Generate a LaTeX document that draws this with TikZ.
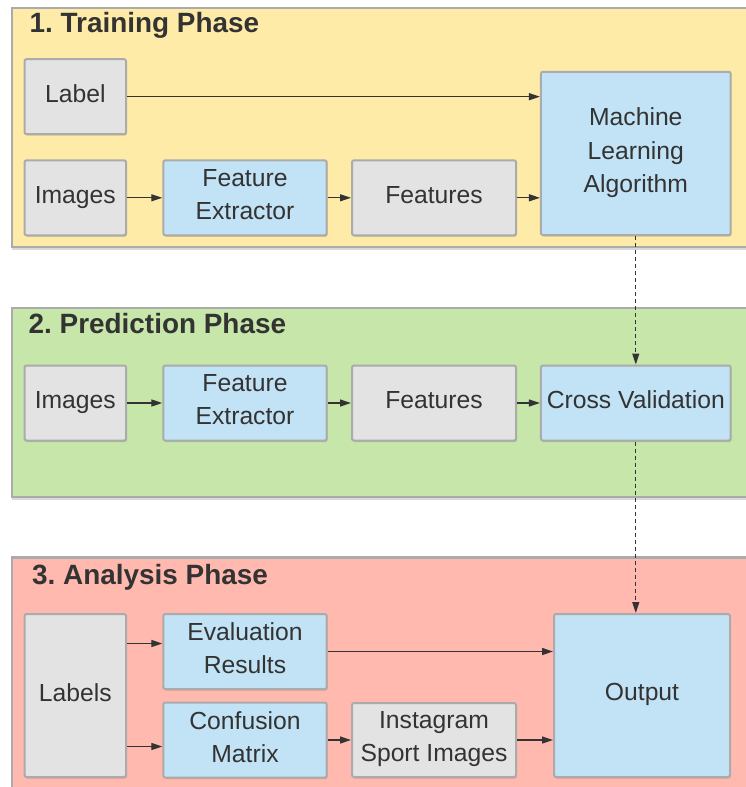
\documentclass[tikz,border=0pt]{standalone}
\usepackage{fontspec}
\setmainfont{Liberation Sans}
\usetikzlibrary{arrows.meta,shadows}
\frenchspacing

\definecolor{txt}{HTML}{333333}
\definecolor{edge}{HTML}{ABABAB}
\definecolor{trainbg}{HTML}{FFEBA8}
\definecolor{predbg}{HTML}{C6E6AA}
\definecolor{anabg}{HTML}{FFB9AF}
\definecolor{grayfill}{HTML}{E3E3E3}
\definecolor{bluefill}{HTML}{C2E3F5}

% fixed line box so every line sits the same way in its box
\newcommand\lnst{\rule[-6.6pt]{0pt}{23.6pt}}

\tikzset{
  panel/.style={draw=edge, line width=2.5pt,
    drop shadow={shadow xshift=0pt, shadow yshift=-2.5pt, opacity=0.15, fill=black}},
  box/.style={draw=edge, line width=2pt, rounded corners=2pt, inner sep=0pt,
    align=center, text=txt, font=\fontsize{24.7}{33.3}\selectfont,
    drop shadow={shadow xshift=0.8pt, shadow yshift=-1.5pt, opacity=0.15, fill=black}},
  graybox/.style={box, fill=grayfill},
  bluebox/.style={box, fill=bluefill},
  titletext/.style={anchor=base west, inner sep=0pt, text=txt,
    font=\fontsize{27.9}{30}\selectfont\bfseries},
  flow/.style={draw=txt, line width=1.3pt, -{Triangle[length=11pt,width=7pt]}},
  flowdash/.style={flow, dash pattern=on 4pt off 3pt},
}

\begin{document}
\begin{tikzpicture}[x=1pt, y=-1pt]
\useasboundingbox (0,0) rectangle (746,787);
\clip (0,0) rectangle (746,787);
\fill[white] (0,0) rectangle (746,787);

% phase panels
\draw[panel, fill=trainbg] (12,8) rectangle (770,247);
\draw[panel, fill=predbg] (12,308) rectangle (770,497);
\draw[panel, fill=anabg] (12,557.5) rectangle (770,810);

\node[titletext] (ttrain) at (29.5,32) {1. Training Phase};
\node[titletext] (tpred) at (28.5,333) {2. Prediction Phase};
\node[titletext] (tana) at (32,584) {3. Analysis Phase};

% 1. training
\node[graybox, minimum width=101.5pt, minimum height=75pt] (label) at (75.3,96.7) {\lnst Label};
\node[graybox, minimum width=101.5pt, minimum height=75pt] (img1) at (75.3,197.8) {\lnst Images};
\node[bluebox, minimum width=163.4pt, minimum height=75pt] (fe1) at (245,197.8) {\lnst Feature\\\lnst Extractor};
\node[graybox, minimum width=164pt, minimum height=75pt] (feat1) at (434,197.8) {\lnst Features};
\node[bluebox, minimum width=189.7pt, minimum height=163.3pt] (ml) at (635.8,153.4) {\lnst Machine\\\lnst Learning\\\lnst Algorithm};

% 2. prediction
\node[graybox, minimum width=101.5pt, minimum height=75pt] (img2) at (75.3,403) {\lnst Images};
\node[bluebox, minimum width=163.4pt, minimum height=75pt] (fe2) at (245,403) {\lnst Feature\\\lnst Extractor};
\node[graybox, minimum width=164pt, minimum height=75pt] (feat2) at (434,403) {\lnst Features};
\node[bluebox, minimum width=189.7pt, minimum height=75pt] (cv) at (635.8,403) {\lnst Cross Validation};

% 3. analysis
\node[graybox, minimum width=101.5pt, minimum height=163pt] (labels) at (75.3,695.5) {\lnst Labels};
\node[bluebox, minimum width=163.4pt, minimum height=75pt] (er) at (245,651.5) {\lnst Evaluation\\\lnst Results};
\node[bluebox, minimum width=163.4pt, minimum height=75pt] (cm) at (245,740) {\lnst Confusion\\\lnst Matrix};
\node[graybox, minimum width=164pt, minimum height=74pt] (isi) at (434,740) {\lnst Instagram\\\lnst Sport Images};
\node[bluebox, minimum width=176pt, minimum height=163pt] (out) at (642,695.5) {\lnst Output};

% connectors, training
\draw[flow] (label) -- (label -| ml.west);
\draw[flow] (img1) -- (fe1);
\draw[flow] (fe1) -- (feat1);
\draw[flow] (feat1) -- (feat1 -| ml.west);

% connectors, prediction
\draw[flow] (img2) -- (fe2);
\draw[flow] (fe2) -- (feat2);
\draw[flow] (feat2) -- (cv);

% connectors, analysis
\draw[flow] ([yshift=52pt]labels.east) -- ([yshift=52pt]labels.east -| er.west);
\draw[flow] ([yshift=-51pt]labels.east) -- ([yshift=-51pt]labels.east -| cm.west);
\draw[flow] (er) -- (er -| out.west);
\draw[flow] (cm) -- (isi);
\draw[flow] (isi) -- (isi -| out.west);

% links between phases
\draw[flowdash] (ml.south) -- (cv.north);
\draw[flowdash] (cv.south) -- (cv.south |- out.north);
\end{tikzpicture}
\end{document}
